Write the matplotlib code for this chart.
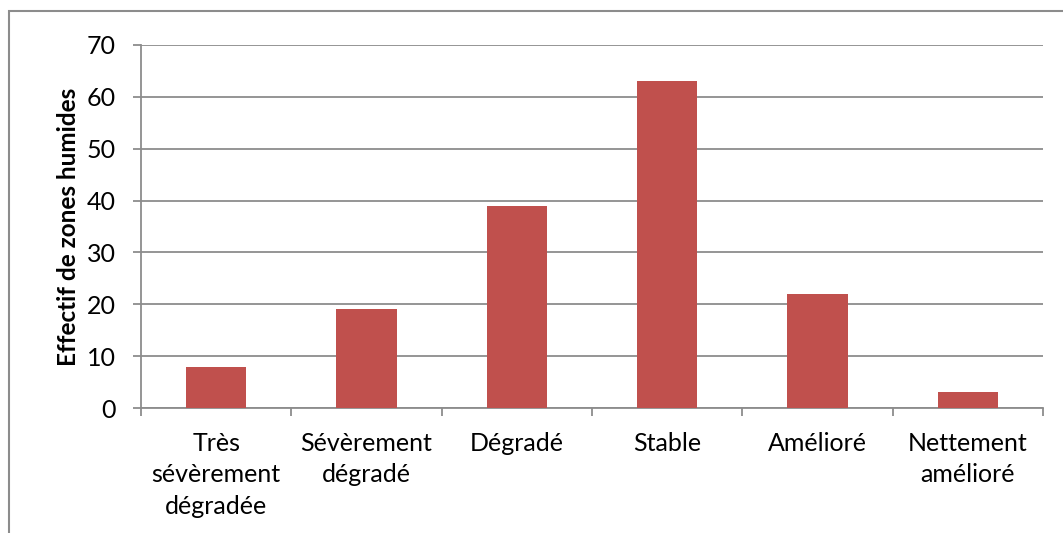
import matplotlib
matplotlib.use("Agg")
import matplotlib.pyplot as plt
from matplotlib.patches import Rectangle
import numpy as np

categories = ["Très\nsévèrement\ndégradée", "Sévèrement\ndégradé", "Dégradé",
              "Stable", "Amélioré", "Nettement\namélioré"]
counts = [8, 19, 39, 63, 22, 3]
yticks = [0, 10, 20, 30, 40, 50, 60, 70]

plt.rcParams['font.family'] = ['Lato', 'DejaVu Sans']

fig = plt.figure(figsize=(10.63, 5.33), dpi=100)
ax = fig.add_axes([0.1326, 0.2345, 0.8486, 0.6811])

grid_color = "#8c8c8c"
x = np.arange(len(categories))
ax.bar(x, counts, width=0.4, color="#C0504D", zorder=3)

ax.set_xlim(-0.5, len(categories) - 0.5)
ax.set_ylim(0, 70)
ax.set_yticks(yticks)
ax.yaxis.grid(True, color=grid_color, linewidth=1.3, zorder=0)
ax.tick_params(axis='y', length=6, width=1.3, color=grid_color, labelsize=18, pad=12)

# category labels centred, tick marks on category boundaries
ax.set_xticks(x)
ax.set_xticklabels(categories, fontsize=18, linespacing=1.45)
ax.tick_params(axis='x', length=0, pad=17)
ax.set_xticks(np.arange(-0.5, len(categories)), minor=True)
ax.tick_params(axis='x', which='minor', length=6, width=1.3, color=grid_color)

for side in ["top", "right"]:
    ax.spines[side].set_visible(False)
for side in ["left", "bottom"]:
    ax.spines[side].set_color(grid_color)
    ax.spines[side].set_linewidth(1.3)

ax.set_ylabel("Effectif de zones humides", fontsize=17.5, fontweight='bold', labelpad=5)

# outer chart frame
fig.patches.append(Rectangle((8.5 / 1063, -0.2), 2.0, (533 - 11) / 533 + 0.2,
                             transform=fig.transFigure, fill=False,
                             edgecolor="#8c8c8c", linewidth=1.5))

fig.savefig("out.png", dpi=100)
